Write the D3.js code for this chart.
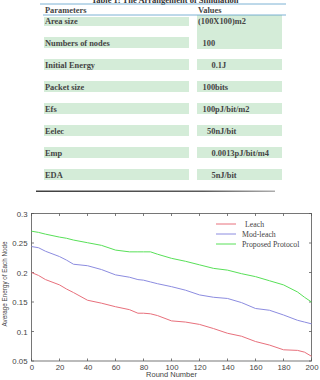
<!DOCTYPE html>
<html><head><meta charset="utf-8">
<script src="https://cdn.jsdelivr.net/npm/d3@7"></script>
<style>body{margin:0;background:#fff}svg{display:block}</style>
</head><body>
<svg id="c" width="320" height="380"></svg>
<script>
const tableParams = ["Area size","Numbers of nodes","Initial Energy","Packet size","Efs","Eelec","Emp","EDA"];
const tableValues = ["(100X100)m2","100","0.1J","100bits","100pJ/bit/m2","50nJ/bit","0.0013pJ/bit/m4","5nJ/bit"];
const valueIndent = [0,1,3,1,1,2,3,3];

const rounds = [0,5,10,20,25,30,40,50,60,70,76,80,85,90,100,110,120,130,140,150,160,170,180,190,195,200];
const leach    = [0.200,0.195,0.188,0.179,0.172,0.166,0.153,0.148,0.142,0.137,0.131,0.131,0.130,0.127,0.118,0.116,0.112,0.105,0.097,0.092,0.083,0.077,0.069,0.068,0.065,0.058];
const modLeach = [0.244,0.242,0.236,0.227,0.221,0.214,0.2115,0.205,0.196,0.192,0.188,0.187,0.184,0.181,0.176,0.170,0.162,0.158,0.156,0.149,0.139,0.136,0.128,0.119,0.116,0.113];
const proposed = [0.270,0.268,0.265,0.260,0.258,0.255,0.2505,0.246,0.238,0.235,0.235,0.235,0.235,0.231,0.224,0.219,0.213,0.207,0.204,0.198,0.193,0.186,0.179,0.167,0.158,0.150];
const seriesNames = ["Leach","Mod-leach","Proposed Protocol"];
const seriesColors = ["#e8707c","#8c8ce0","#58e058"];
const xTicks = [0,20,40,60,80,100,120,140,160,180,200];
const yTicks = [0.05,0.1,0.15,0.2,0.25,0.3];

const svg = d3.select("#c");

// ---- Table ----
const tfont = "Liberation Serif, DejaVu Serif, serif";
const tg = svg.append("g");
tg.append("text").attr("x",165).attr("y",3).attr("text-anchor","middle")
  .attr("font-family",tfont).attr("font-size",8.5).attr("font-weight","bold")
  .attr("fill","#333").text("Table 1: The Arrangement of Simulation");
tg.append("rect").attr("x",197).attr("y",15).attr("width",85).attr("height",34).attr("fill","#d4ecd8");
const rowY = d3.scaleLinear().domain([0,1]).range([18,40]);
tableParams.forEach((p,i)=>{
  const top = i===0 ? 17 : rowY(i)-3;
  tg.append("rect").attr("x",44).attr("y",top).attr("width",145).attr("height",i===0?9:11).attr("fill","#d4ecd8");
  if(i>=2) tg.append("rect").attr("x",197).attr("y",top).attr("width",85).attr("height",11).attr("fill","#d4ecd8");
});
tg.append("line").attr("x1",40).attr("x2",286).attr("y1",4).attr("y2",4).attr("stroke","#5b9ec9").attr("stroke-width",0.8);
tg.append("line").attr("x1",43).attr("x2",286).attr("y1",15).attr("y2",15).attr("stroke","#5b9ec9").attr("stroke-width",0.8);
const fs = 8.4;
tg.append("text").attr("x",45).attr("y",12.5).attr("font-family",tfont).attr("font-size",fs).attr("font-weight","bold").attr("fill","#444").text("Parameters");
tg.append("text").attr("x",198).attr("y",12.5).attr("font-family",tfont).attr("font-size",fs).attr("font-weight","bold").attr("fill","#444").text("Values");
tableParams.forEach((p,i)=>{
  const by = i===0 ? 24 : rowY(i)+5.5;
  tg.append("text").attr("x",45).attr("y",by).attr("font-family",tfont).attr("font-size",fs).attr("font-weight","bold").attr("fill","#444").text(p);
  tg.append("text").attr("x",198+valueIndent[i]*4.5).attr("y",by).attr("font-family",tfont).attr("font-size",fs).attr("font-weight","bold").attr("fill","#444").text(tableValues[i]);
});
const grad = svg.append("defs").append("linearGradient").attr("id","lg");
grad.append("stop").attr("offset","0%").attr("stop-color","#111");
grad.append("stop").attr("offset","70%").attr("stop-color","#333");
grad.append("stop").attr("offset","100%").attr("stop-color","#999");
tg.append("rect").attr("x",36).attr("y",190.6).attr("width",239).attr("height",1.2).attr("fill","url(#lg)");

// ---- Chart ----
const L=31.5, R=311.5, T=213.5, B=361;
const x = d3.scaleLinear().domain([0,200]).range([L,R]);
const y = d3.scaleLinear().domain([0.05,0.3]).range([B,T]);
const cg = svg.append("g");
const afont = "Liberation Sans, Arial, sans-serif";

const tickLen = 2.5;
xTicks.forEach(t=>{
  cg.append("line").attr("x1",x(t)).attr("x2",x(t)).attr("y1",B).attr("y2",B-tickLen).attr("stroke","#444").attr("stroke-width",0.7);
  cg.append("line").attr("x1",x(t)).attr("x2",x(t)).attr("y1",T).attr("y2",T+tickLen).attr("stroke","#444").attr("stroke-width",0.7);
});
yTicks.forEach(t=>{
  cg.append("line").attr("x1",L).attr("x2",L+tickLen).attr("y1",y(t)).attr("y2",y(t)).attr("stroke","#444").attr("stroke-width",0.7);
  cg.append("line").attr("x1",R).attr("x2",R-tickLen).attr("y1",y(t)).attr("y2",y(t)).attr("stroke","#444").attr("stroke-width",0.7);
});
const xa = d3.axisBottom(x).tickValues(xTicks).tickSize(0).tickPadding(3).tickFormat(d3.format("d"));
const xg = cg.append("g").attr("transform",`translate(0,${B})`).call(xa);
xg.select(".domain").remove();
xg.selectAll("text").attr("font-family",afont).attr("font-size",7.8).attr("fill","#444");
const ya = d3.axisLeft(y).tickValues(yTicks).tickSize(0).tickPadding(4).tickFormat(d=>String(+d.toFixed(2)));
const yg = cg.append("g").attr("transform",`translate(${L},0)`).call(ya);
yg.select(".domain").remove();
yg.selectAll("text").attr("font-family",afont).attr("font-size",7.8).attr("fill","#444");

cg.append("rect").attr("x",L).attr("y",T).attr("width",R-L).attr("height",B-T).attr("fill","none").attr("stroke","#555").attr("stroke-width",0.8);

const line = d3.line().x(d=>x(d[0])).y(d=>y(d[1]));
[leach,modLeach,proposed].forEach((s,i)=>{
  cg.append("path").datum(rounds.map((r,j)=>[r,s[j]])).attr("d",line)
    .attr("fill","none").attr("stroke",seriesColors[i]).attr("stroke-width",1);
});

seriesNames.forEach((n,i)=>{
  const ly = 224 + i*10;
  cg.append("line").attr("x1",216).attr("x2",236).attr("y1",ly).attr("y2",ly).attr("stroke",seriesColors[i]).attr("stroke-width",1);
  cg.append("text").attr("x",i===0?245:242).attr("y",ly+2.7).attr("font-family",tfont).attr("font-size",7.8).attr("fill","#444").text(n);
});

cg.append("text").attr("x",x(100)).attr("y",377).attr("text-anchor","middle").attr("font-family",afont).attr("font-size",7.5).attr("fill","#444").text("Round Number");
cg.append("text").attr("transform",`translate(7,284) rotate(-90)`).attr("text-anchor","middle").attr("font-family",afont).attr("font-size",6.3).attr("fill","#444").text("Average Energy of Each Node");
</script>
</body></html>
